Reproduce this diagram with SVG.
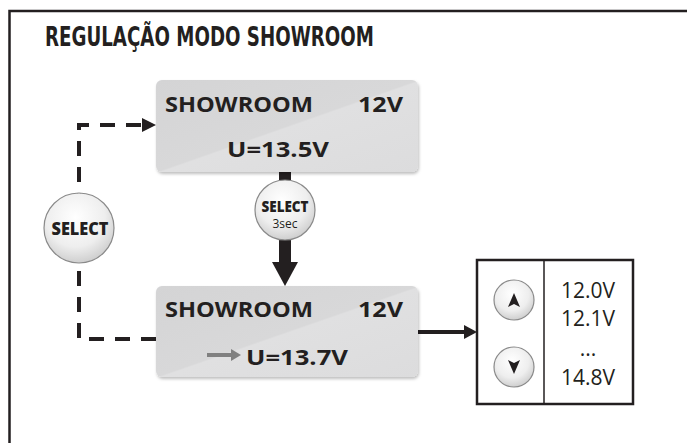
<svg xmlns="http://www.w3.org/2000/svg" width="687" height="443" viewBox="0 0 687 443">
<style>
.title{font-family:"DejaVu Sans","Liberation Sans",sans-serif;font-weight:bold;font-size:27px;fill:#231f20}
.lcd{font-family:"Open Sans","Liberation Sans",sans-serif;font-weight:700;font-size:22px;fill:#231f20}
.val{font-family:"Open Sans","Liberation Sans",sans-serif;font-weight:400;font-size:21px;fill:#231f20}
.btn{font-family:"Open Sans","Liberation Sans",sans-serif;font-weight:800;fill:#231f20}
.box{fill:url(#lcdg);filter:url(#sh)}
.knob{fill:url(#kg);stroke:#8a8a8a;stroke-width:1.2}
.dash{fill:none;stroke:#231f20;stroke-width:4;stroke-dasharray:15,11}
</style>
<defs>
<linearGradient id="lcdg" x1="0" y1="0" x2="1" y2="1">
<stop offset="0" stop-color="#d4d4d5"/>
<stop offset="0.5" stop-color="#d8d8d9"/>
<stop offset="0.51" stop-color="#e0e0e1"/>
<stop offset="1" stop-color="#dcdcdd"/>
</linearGradient>
<radialGradient id="kg" cx="0.45" cy="0.35" r="0.7">
<stop offset="0" stop-color="#ffffff"/>
<stop offset="0.6" stop-color="#eeeeee"/>
<stop offset="1" stop-color="#c8c8c8"/>
</radialGradient>
<filter id="sh" x="-5%" y="-5%" width="110%" height="115%">
<feDropShadow dx="1" dy="2" stdDeviation="1.5" flood-color="#000" flood-opacity="0.25"/>
</filter>
</defs>
<path d="M9.5,443 V11 H687" fill="none" stroke="#231f20" stroke-width="2.5"/>
<text class="title" x="45" y="46" textLength="329" lengthAdjust="spacingAndGlyphs">REGULAÇÃO MODO SHOWROOM</text>
<g id="connectors">
<path class="dash" d="M156,339 H79 V125 H143"/>
<polygon points="142,118 156,125 142,132" fill="#231f20"/>
<rect x="279" y="172" width="12" height="12" fill="#231f20"/>
<rect x="279" y="236" width="12" height="28" fill="#231f20"/>
<polygon points="272,262 298,262 285,286" fill="#231f20"/>
<line x1="418" y1="332" x2="466" y2="332" stroke="#231f20" stroke-width="4"/>
<polygon points="464,325 477,332 464,339" fill="#231f20"/>
</g>
<g id="lcd1">
<rect class="box" x="156" y="80" width="262" height="92" rx="6"/>
<text class="lcd" x="165" y="112" textLength="148" lengthAdjust="spacingAndGlyphs">SHOWROOM</text>
<text class="lcd" x="403" y="112" text-anchor="end" textLength="45" lengthAdjust="spacingAndGlyphs">12V</text>
<text class="lcd" x="227" y="157" textLength="102" lengthAdjust="spacingAndGlyphs">U=13.5V</text>
</g>
<g id="lcd2">
<rect class="box" x="156" y="286" width="262" height="91" rx="6"/>
<text class="lcd" x="165" y="317" textLength="148" lengthAdjust="spacingAndGlyphs">SHOWROOM</text>
<text class="lcd" x="403" y="317" text-anchor="end" textLength="45" lengthAdjust="spacingAndGlyphs">12V</text>
<line x1="207" y1="355" x2="232" y2="355" stroke="#808080" stroke-width="4"/>
<polygon points="231,349 241,355 231,361" fill="#808080"/>
<text class="lcd" x="246" y="365" textLength="102" lengthAdjust="spacingAndGlyphs">U=13.7V</text>
</g>
<g id="select">
<circle class="knob" cx="79" cy="228" r="35"/>
<text class="btn" x="80" y="235" font-size="17" text-anchor="middle" textLength="57" lengthAdjust="spacingAndGlyphs">SELECT</text>
</g>
<g id="select3sec">
<circle class="knob" cx="285" cy="210" r="30"/>
<text class="btn" x="285" y="212" font-size="15" text-anchor="middle" textLength="47" lengthAdjust="spacingAndGlyphs">SELECT</text>
<text x="285" y="228" font-size="12" text-anchor="middle" font-family="'Open Sans','Liberation Sans',sans-serif" fill="#231f20">3sec</text>
</g>
<g id="range">
<rect x="477" y="260" width="156" height="144" fill="#fff" stroke="#231f20" stroke-width="2.5"/>
<line x1="544" y1="260" x2="544" y2="404" stroke="#231f20" stroke-width="1.5"/>
<circle class="knob" cx="514" cy="300" r="20"/>
<polygon points="514,293 520,307 514,304 508,307" fill="#231f20"/>
<circle class="knob" cx="514" cy="367" r="20"/>
<polygon points="514,374 520,360 514,363 508,360" fill="#231f20"/>
<text class="val" x="588" y="298" text-anchor="middle">12.0V</text>
<text class="val" x="588" y="326" text-anchor="middle">12.1V</text>
<text class="val" x="588" y="356" text-anchor="middle">...</text>
<text class="val" x="588" y="385" text-anchor="middle">14.8V</text>
</g>
</svg>
